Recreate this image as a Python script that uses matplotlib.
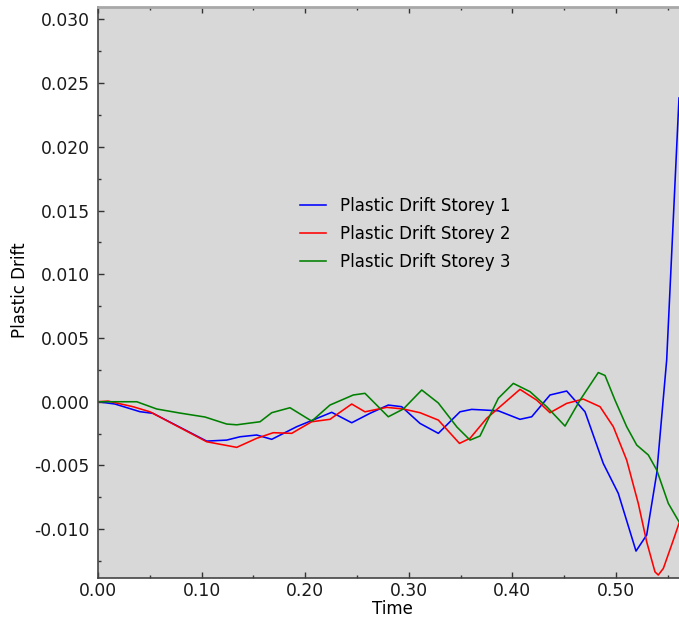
import matplotlib
matplotlib.use("Agg")
import matplotlib.pyplot as plt
from matplotlib.ticker import MultipleLocator, FormatStrFormatter

plt.rcParams["axes.unicode_minus"] = False
plt.rcParams["font.family"] = ["DejaVu Sans"]

# Plastic drift histories for each storey (time, drift)
t_storey1 = [0.0, 0.0164, 0.0405, 0.0531, 0.1049, 0.1242, 0.1371, 0.1532, 0.1677,
             0.1918, 0.2256, 0.2449, 0.2625, 0.2802, 0.2931, 0.3108, 0.3285, 0.3494,
             0.3607, 0.3864, 0.4073, 0.4186, 0.4363, 0.4524, 0.4701, 0.4877, 0.5022,
             0.5193, 0.5296, 0.5393, 0.5489, 0.5608]
d_storey1 = [0.0, -0.00018, -0.00078, -0.00091, -0.00309, -0.00301, -0.00275, -0.00261,
             -0.00295, -0.00196, -0.00083, -0.00165, -0.00091, -0.00026, -0.00039,
             -0.00170, -0.00248, -0.00079, -0.00060, -0.00071, -0.00138, -0.00118,
             0.00053, 0.00084, -0.00079, -0.00484, -0.00719, -0.01172, -0.01046,
             -0.00562, 0.00327, 0.02384]

t_storey2 = [0.0, 0.0097, 0.0338, 0.0502, 0.1049, 0.1339, 0.1532, 0.1692, 0.1870,
             0.2063, 0.2239, 0.2449, 0.2577, 0.2787, 0.2947, 0.3108, 0.3285, 0.3489,
             0.3591, 0.3752, 0.4073, 0.4234, 0.4363, 0.4524, 0.4684, 0.4846, 0.4974,
             0.5103, 0.5215, 0.5296, 0.5376, 0.5408, 0.5457, 0.5553, 0.5608]
d_storey2 = [0.0, 0.00005, -0.00039, -0.00079, -0.00314, -0.00358, -0.00287, -0.00243,
             -0.00248, -0.00157, -0.00138, -0.00018, -0.00079, -0.00044, -0.00057,
             -0.00086, -0.00144, -0.00327, -0.00287, -0.00130, 0.00097, 0.00013,
             -0.00086, -0.00013, 0.00021, -0.00039, -0.00196, -0.00458, -0.00798,
             -0.01099, -0.01335, -0.01360, -0.01308, -0.01086, -0.00955]

t_storey3 = [0.0, 0.0374, 0.0567, 0.0792, 0.1033, 0.1242, 0.1339, 0.1564, 0.1677,
             0.1853, 0.2063, 0.2239, 0.2464, 0.2577, 0.2802, 0.2947, 0.3125, 0.3285,
             0.3465, 0.3591, 0.3687, 0.3864, 0.4009, 0.4170, 0.4331, 0.4508, 0.4653,
             0.4829, 0.4894, 0.4990, 0.5103, 0.5200, 0.5312, 0.5393, 0.5505, 0.5608]
d_storey3 = [0.0, 0.0, -0.00057, -0.00089, -0.00120, -0.00175, -0.00181, -0.00157,
             -0.00086, -0.00047, -0.00152, -0.00026, 0.00053, 0.00066, -0.00118,
             -0.00057, 0.00092, -0.00010, -0.00199, -0.00301, -0.00269, 0.00027,
             0.00144, 0.00079, -0.00039, -0.00191, 0.00013, 0.00229, 0.00206, 0.00013,
             -0.00196, -0.00340, -0.00418, -0.00536, -0.00798, -0.00942]

series_labels = ["Plastic Drift Storey 1", "Plastic Drift Storey 2", "Plastic Drift Storey 3"]
series_colors = ["#0000ff", "#ff0000", "#008000"]

W, H = 679, 619
fig = plt.figure(figsize=(W / 100, H / 100), dpi=100)
ax = fig.add_axes([98 / W, (H - 577.7) / H, 581 / W, 570.7 / H])
ax.set_facecolor("#d8d8d8")

for t, d, lab, col in zip([t_storey1, t_storey2, t_storey3],
                          [d_storey1, d_storey2, d_storey3],
                          series_labels, series_colors):
    ax.plot(t, d, color=col, lw=1.15, label=lab)

ax.set_xlim(0.0, 0.5608)
ax.set_ylim(-0.01381, 0.03098)

ax.xaxis.set_major_locator(MultipleLocator(0.1))
ax.xaxis.set_minor_locator(MultipleLocator(0.05))
ax.yaxis.set_major_locator(MultipleLocator(0.005))
ax.yaxis.set_minor_locator(MultipleLocator(0.0025))
ax.xaxis.set_major_formatter(FormatStrFormatter("%.2f"))
ax.yaxis.set_major_formatter(FormatStrFormatter("%.3f"))

ax.tick_params(which="both", direction="in", top=True, right=False,
               colors="#333333", labelcolor="#1a1a1a")
ax.tick_params(which="major", length=4, width=1)
ax.tick_params(which="minor", length=2, width=1)
ax.tick_params(axis="y", labelsize=12.3, pad=6)
ax.tick_params(axis="x", labelsize=12.3, pad=3)

for side in ("left", "bottom"):
    ax.spines[side].set_color("#444444")
    ax.spines[side].set_linewidth(1.2)
ax.spines["top"].set_color("#a8a8a8")
ax.spines["top"].set_linewidth(2.0)
ax.spines["right"].set_visible(False)

leg = ax.legend(loc="upper left", bbox_to_anchor=((293 - 98) / 581, (577.7 - 190) / 570.7),
                frameon=False, fontsize=12, handlelength=1.6, handletextpad=0.8,
                labelspacing=0.6, borderaxespad=0)

fig.text(392.5 / W, 1 - 613.5 / H, "Time", ha="center", va="baseline", fontsize=12)
fig.text(20 / W, 1 - 290 / H, "Plastic Drift", ha="center", va="center",
         rotation=90, fontsize=12)

fig.savefig("out.png", dpi=100, facecolor="white")
